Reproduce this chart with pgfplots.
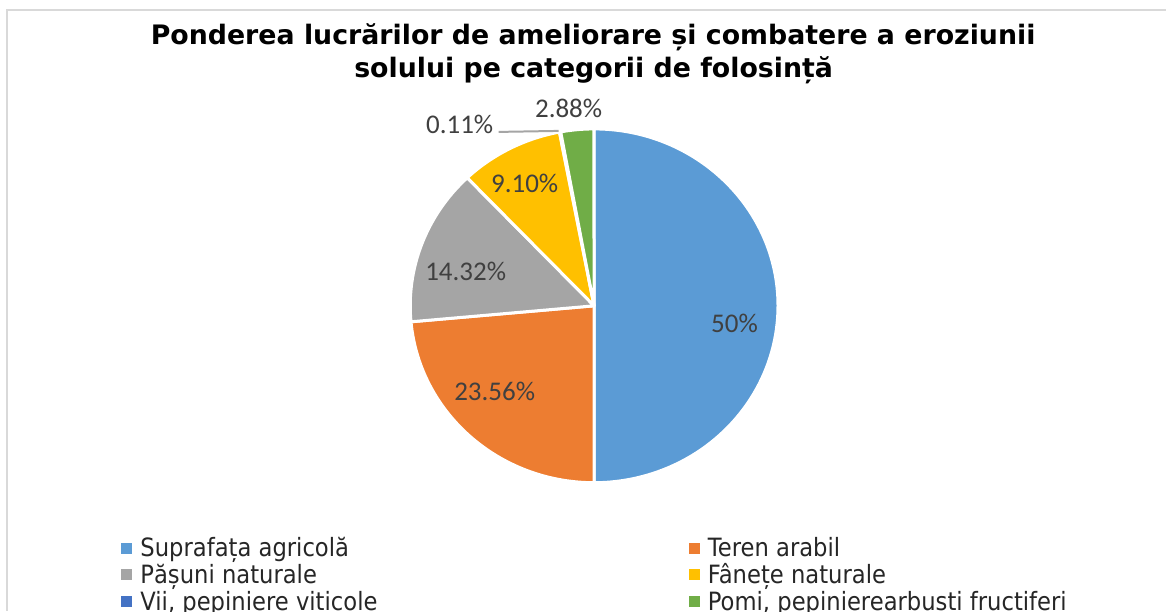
\documentclass[border=0pt]{standalone}
\usepackage{fontspec}
\usepackage{pgfplots}
\usepackage{pgfplotstable}
\pgfplotsset{compat=1.18}
\setmainfont{DejaVu Sans}[FakeStretch=0.9]
\newfontfamily\titlefont{DejaVu Sans}
\newfontfamily\labelfont{Carlito}

\definecolor{pblue}{HTML}{5B9BD5}
\definecolor{porange}{HTML}{ED7D31}
\definecolor{pgray}{HTML}{A5A5A5}
\definecolor{pyellow}{HTML}{FFC000}
\definecolor{pdblue}{HTML}{4472C4}
\definecolor{pgreen}{HTML}{70AD47}
\definecolor{labelgray}{HTML}{404040}
\definecolor{frameg}{HTML}{D9D9D9}

% share (%) of each category, label position in pixels of the 1167x611 frame
\pgfplotstableread{
pct    col      lx   ly
50     pblue    735  324
23.56  porange  495  392
14.32  pgray    466  272
9.10   pyellow  525  184
0.11   pdblue   460  124
2.88   pgreen   569  108
}\piedata

\begin{document}
\begin{tikzpicture}
\begin{axis}[
    scale only axis,
    width=583.5pt, height=305.5pt,
    xmin=0, xmax=1167, ymin=0, ymax=611,
    y dir=reverse,
    enlargelimits=false,
    hide axis,
    clip=false,
    legend columns=2,
    legend cell align=left,
    legend style={draw=none, fill=none, inner xsep=0pt, inner ysep=0pt,
      at={(axis cs:121,534.6)}, anchor=north west, overlay,
      font=\fontsize{12.6}{14}\selectfont, text=black!85,
      nodes={inner sep=0pt, text height=11.0pt, text depth=2.35pt}},
    legend image code/.code={%
      \fill[#1] (0pt,-2.5pt) rectangle (5pt,2.5pt);
      \path (9.15pt,0pt);},
]
% picture area
\path (axis cs:0,0) rectangle (axis cs:1167,611);
% frame
\draw[frameg, line width=0.75pt] (axis cs:7,611) -- (axis cs:7,10) -- (axis cs:1167,10);

% title
\node[anchor=base, font=\titlefont\bfseries\fontsize{13.4}{16}\selectfont]
  at (axis cs:593.5,44.3) {Ponderea lucrărilor de ameliorare și combatere a eroziunii};
\node[anchor=base, font=\titlefont\bfseries\fontsize{13.4}{16}\selectfont]
  at (axis cs:594,78) {solului pe categorii de folosință};

% slices, clockwise from 12 o'clock
\def\startang{90}
\pgfplotsforeachungrouped \k in {0,...,5}{%
  \pgfplotstablegetelem{\k}{pct}\of\piedata \let\sv\pgfplotsretval
  \pgfplotstablegetelem{\k}{col}\of\piedata \let\scol\pgfplotsretval
  \pgfmathsetmacro\endang{\startang-3.6*\sv}%
  \edef\cmd{\noexpand\fill[\scol, draw=white, line width=1.5pt, line join=round]
    (axis cs:594.5,306) -- ++(\startang:92pt and 88.5pt)
    arc[start angle=\startang, end angle=\endang, x radius=92pt, y radius=88.5pt] -- cycle;}%
  \cmd
  \let\startang\endang
}

% data labels
\draw[pgray, line width=1pt] (axis cs:499,132) -- (axis cs:559,131);
\pgfplotsforeachungrouped \k in {0,...,5}{%
  \pgfplotstablegetelem{\k}{pct}\of\piedata \let\sv\pgfplotsretval
  \pgfplotstablegetelem{\k}{lx}\of\piedata \let\lx\pgfplotsretval
  \pgfplotstablegetelem{\k}{ly}\of\piedata \let\ly\pgfplotsretval
  \edef\cmd{\noexpand\node[font=\noexpand\labelfont\noexpand\fontsize{13.5}{15}\noexpand\selectfont,
    text=labelgray, inner sep=0pt] at (axis cs:\lx,\ly) {\sv\noexpand\%};}%
  \cmd
}

\addlegendimage{pblue}
\addlegendentry{\makebox[274.35pt][l]{Suprafața agricolă}}
\addlegendimage{porange}
\addlegendentry{Teren arabil}
\addlegendimage{pgray}
\addlegendentry{\makebox[274.35pt][l]{Pășuni naturale}}
\addlegendimage{pyellow}
\addlegendentry{Fânețe naturale}
\addlegendimage{pdblue}
\addlegendentry{\makebox[274.35pt][l]{Vii, pepiniere viticole}}
\addlegendimage{pgreen}
\addlegendentry{Pomi, pepinierearbuști fructiferi}
\end{axis}
\end{tikzpicture}
\end{document}
